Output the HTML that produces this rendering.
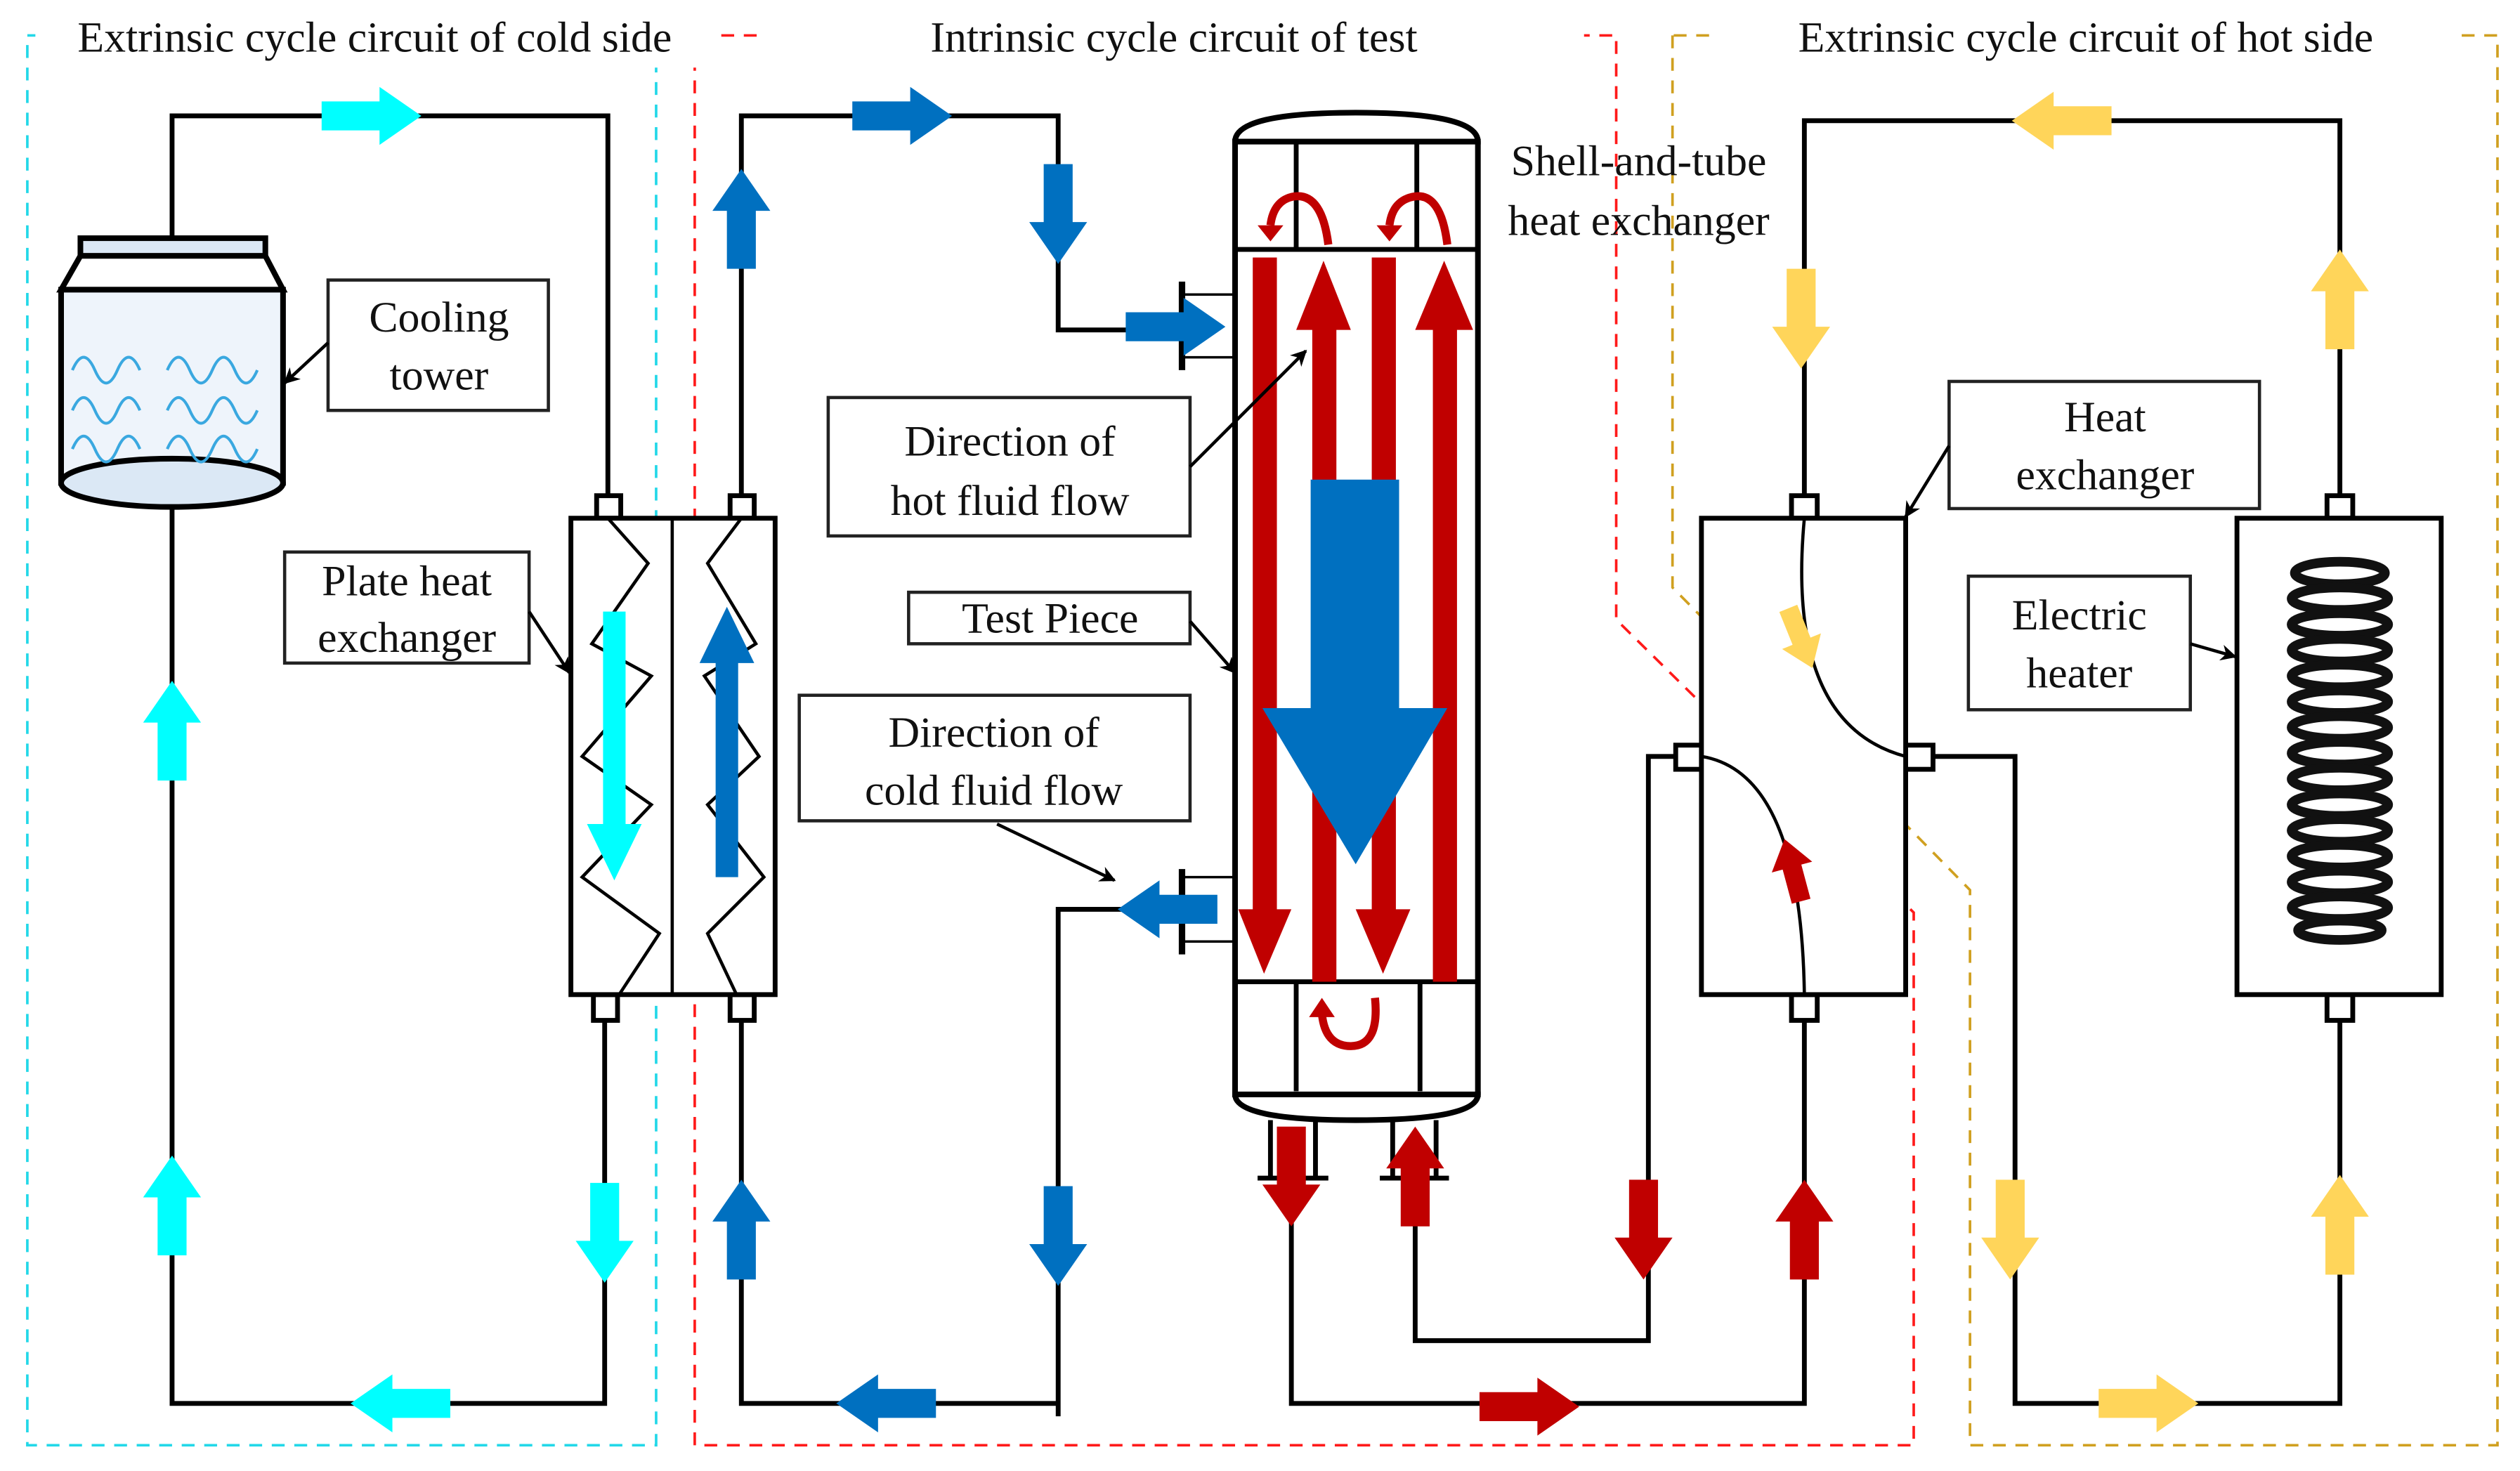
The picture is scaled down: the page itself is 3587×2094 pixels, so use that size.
<!DOCTYPE html>
<html><head><meta charset="utf-8"><style>
html,body{margin:0;padding:0;background:#fff;}
svg{display:block;}
text{font-family:"Liberation Serif",serif;fill:#111;}
</style></head><body>
<svg width="3587" height="2094" viewBox="0 0 1567 914" preserveAspectRatio="none" xmlns="http://www.w3.org/2000/svg">
<defs>
<path id="ar" d="M0,-9 H36 V-18 L62,0 L36,18 V9 H0 Z"/>
<path id="arS" d="M0,-6 H22 V-13 L40,0 L22,13 V6 H0 Z"/>
<marker id="mk" markerWidth="10" markerHeight="10" refX="9" refY="5" orient="auto" markerUnits="userSpaceOnUse"><path d="M0,0 L10,5 L0,10 L3,5 Z" fill="#000"/></marker>
</defs>
<rect width="1567" height="914" fill="#fff"/>
<rect x="17" y="22" width="391" height="876" fill="none" stroke="#22d8e8" stroke-width="1.6" stroke-dasharray="8,6"/>
<path d="M432,22 V898 H1190 V567 L1005,385 V22 Z" fill="none" stroke="#ff1a1a" stroke-width="1.6" stroke-dasharray="8,6"/>
<path d="M1040,22 V365 L1225,553 V898 H1553 V22 Z" fill="none" stroke="#d0a020" stroke-width="1.6" stroke-dasharray="8,6"/>
<rect x="22" y="4" width="425" height="38" fill="#fff"/>
<rect x="475" y="4" width="510" height="38" fill="#fff"/>
<rect x="1065" y="4" width="462" height="38" fill="#fff"/>
<text x="233" y="32" font-size="27" text-anchor="middle">Extrinsic cycle circuit of cold side</text>
<text x="730" y="32" font-size="27" text-anchor="middle">Intrinsic cycle circuit of test</text>
<text x="1297" y="32" font-size="27" text-anchor="middle">Extrinsic cycle circuit of hot side</text>

<g fill="none" stroke="#000" stroke-width="3">
<path d="M107,148 V72 H378 V310"/>
<path d="M107,315 V872 H376 V634"/>
<path d="M461,310 V72 H658 V205 H735"/>
<path d="M735,565 H658 V880"/>
<path d="M658,872 H461 V634"/>
<path d="M803,732 V872 H1122 V634"/>
<path d="M880,732 V833 H1025 V470 H1042"/>
<path d="M1122,310 V75 H1455 V310"/>
<path d="M1455,634 V872 H1253 V470 H1202"/>
</g>

<g stroke="#000" stroke-width="3.5">
<rect x="50" y="148" width="115" height="11" fill="#dbe8f5"/>
<path d="M50,159 L38,180 H176 L165,159 Z" fill="#fff"/>
<rect x="38" y="180" width="138" height="120" fill="#eef4fb"/>
<ellipse cx="107" cy="300" rx="69" ry="15" fill="#dbe8f5"/>
</g>
<g fill="none" stroke="#3aa8e0" stroke-width="1.8">
<path d="M45,230 q7,-16 14,0 t14,0 t14,0"/>
<path d="M104,230 q7,-16 14,0 t14,0 t14,0 t14,0"/>
<path d="M45,255 q7,-16 14,0 t14,0 t14,0"/>
<path d="M104,255 q7,-16 14,0 t14,0 t14,0 t14,0"/>
<path d="M45,279 q7,-16 14,0 t14,0 t14,0"/>
<path d="M104,279 q7,-16 14,0 t14,0 t14,0 t14,0"/>
</g>

<g stroke="#000" stroke-width="3" fill="#fff">
<rect x="371" y="308" width="15" height="14"/>
<rect x="454" y="308" width="15" height="14"/>
<rect x="369" y="618" width="15" height="16"/>
<rect x="454" y="618" width="15" height="16"/>
<rect x="355" y="322" width="127" height="296"/>
</g>
<line x1="418" y1="322" x2="418" y2="618" stroke="#000" stroke-width="2"/>
<polyline points="378,322 403,350 368,400 405,420 362,470 405,500 362,545 410,580 385,618" fill="none" stroke="#000" stroke-width="2"/>
<polyline points="461,322 440,350 470,400 438,420 472,470 440,500 475,545 440,580 458,618" fill="none" stroke="#000" stroke-width="2"/>

<g stroke="#000" stroke-width="3.5" fill="#fff">
<path d="M768,88 Q768,70 843,70 Q919,70 919,88 Z"/>
<path d="M768,680 Q768,696 843,696 Q919,696 919,680 Z"/>
<rect x="768" y="88" width="151" height="592"/>
</g>
<g stroke="#000" stroke-width="3">
<line x1="768" y1="155" x2="919" y2="155"/>
<line x1="768" y1="610" x2="919" y2="610"/>
<line x1="806" y1="88" x2="806" y2="155"/>
<line x1="881" y1="88" x2="881" y2="155"/>
<line x1="806" y1="610" x2="806" y2="678"/>
<line x1="883" y1="610" x2="883" y2="678"/>
<line x1="735" y1="175" x2="735" y2="230" stroke-width="4"/>
<line x1="735" y1="540" x2="735" y2="593" stroke-width="4"/>
<line x1="790" y1="696" x2="790" y2="732"/>
<line x1="818" y1="696" x2="818" y2="732"/>
<line x1="866" y1="696" x2="866" y2="732"/>
<line x1="893" y1="696" x2="893" y2="732"/>
<line x1="782" y1="732" x2="826" y2="732"/>
<line x1="858" y1="732" x2="901" y2="732"/>
</g>
<g stroke="#000" stroke-width="1.5">
<line x1="735" y1="183" x2="768" y2="183"/><line x1="735" y1="222" x2="768" y2="222"/>
<line x1="735" y1="545" x2="768" y2="545"/><line x1="735" y1="585" x2="768" y2="585"/>
</g>
<g fill="#c00000">
<rect x="779" y="160" width="15" height="410"/>
<polygon points="770,565 803,565 786,605"/>
<rect x="816" y="200" width="15" height="410"/>
<polygon points="806,205 840,205 823,162"/>
<rect x="853" y="160" width="15" height="410"/>
<polygon points="843,565 877,565 860,605"/>
<rect x="891" y="200" width="15" height="410"/>
<polygon points="880,205 916,205 898,162"/>
</g>
<g fill="none" stroke="#c00000" stroke-width="5">
<path d="M826,152 Q822,120 805,122 Q792,124 790,140"/>
<path d="M900,152 Q896,120 880,122 Q866,124 864,140"/>
<path d="M855,620 Q858,650 840,650 Q824,650 822,630"/>
</g>
<g fill="#c00000"><polygon points="782,140 798,140 790,150"/><polygon points="856,140 872,140 864,150"/><polygon points="814,632 830,632 822,620"/></g>
<polygon points="815,298 870,298 870,440 900,440 843,537 785,440 815,440" fill="#0070c0"/>

<g stroke="#000" stroke-width="3" fill="#fff">
<rect x="1114" y="308" width="16" height="14"/>
<rect x="1114" y="618" width="16" height="16"/>
<rect x="1042" y="463" width="16" height="15"/>
<rect x="1185" y="463" width="17" height="15"/>
<rect x="1058" y="322" width="127" height="296"/>
</g>
<path d="M1122,322 Q1110,450 1185,470" fill="none" stroke="#000" stroke-width="2"/>
<path d="M1058,470 Q1120,480 1122,618" fill="none" stroke="#000" stroke-width="2"/>
<g stroke="#000" stroke-width="3" fill="#fff">
<rect x="1447" y="308" width="16" height="14"/>
<rect x="1447" y="618" width="16" height="16"/>
<rect x="1391" y="322" width="127" height="296"/>
</g>
<g fill="none" stroke="#111" stroke-width="6">
<ellipse cx="1455" cy="356" rx="28" ry="7"/><ellipse cx="1455" cy="372" rx="30" ry="7"/>
<ellipse cx="1455" cy="388" rx="30" ry="7"/><ellipse cx="1455" cy="404" rx="30" ry="7"/>
<ellipse cx="1455" cy="420" rx="30" ry="7"/><ellipse cx="1455" cy="436" rx="30" ry="7"/>
<ellipse cx="1455" cy="452" rx="30" ry="7"/><ellipse cx="1455" cy="468" rx="30" ry="7"/>
<ellipse cx="1455" cy="484" rx="30" ry="7"/><ellipse cx="1455" cy="500" rx="30" ry="7"/>
<ellipse cx="1455" cy="516" rx="30" ry="7"/><ellipse cx="1455" cy="532" rx="30" ry="7"/>
<ellipse cx="1455" cy="548" rx="30" ry="7"/><ellipse cx="1455" cy="564" rx="30" ry="7"/>
<ellipse cx="1455" cy="578" rx="26" ry="6"/>
</g>

<g fill="#00ffff">
<use href="#ar" transform="translate(200,72)"/>
<use href="#ar" transform="translate(107,485) rotate(-90)"/>
<use href="#ar" transform="translate(107,780) rotate(-90)"/>
<use href="#ar" transform="translate(376,735) rotate(90)"/>
<use href="#ar" transform="translate(280,872) rotate(180)"/>
<rect x="375" y="380" width="14" height="135"/>
<polygon points="365,512 399,512 382,547"/>
</g>
<g fill="#0070c0">
<use href="#ar" transform="translate(461,167) rotate(-90)"/>
<use href="#ar" transform="translate(530,72)"/>
<use href="#ar" transform="translate(658,102) rotate(90)"/>
<use href="#ar" transform="translate(700,203)"/>
<use href="#ar" transform="translate(757,565) rotate(180)"/>
<use href="#ar" transform="translate(658,737) rotate(90)"/>
<use href="#ar" transform="translate(461,795) rotate(-90)"/>
<use href="#ar" transform="translate(582,872) rotate(180)"/>
<rect x="445" y="410" width="14" height="135"/>
<polygon points="435,412 469,412 452,377"/>
</g>
<g fill="#c00000">
<use href="#ar" transform="translate(803,700) rotate(90)"/>
<use href="#ar" transform="translate(880,762) rotate(-90)"/>
<use href="#ar" transform="translate(920,874)"/>
<use href="#ar" transform="translate(1022,733) rotate(90)"/>
<use href="#ar" transform="translate(1122,795) rotate(-90)"/>
<use href="#arS" transform="translate(1120,560) rotate(-105)"/>
</g>
<g fill="#ffd55a">
<use href="#ar" transform="translate(1313,75) rotate(180)"/>
<use href="#ar" transform="translate(1120,167) rotate(90)"/>
<use href="#ar" transform="translate(1455,217) rotate(-90)"/>
<use href="#arS" transform="translate(1112,378) rotate(68)"/>
<use href="#ar" transform="translate(1250,733) rotate(90)"/>
<use href="#ar" transform="translate(1305,872)"/>
<use href="#ar" transform="translate(1455,792) rotate(-90)"/>
</g>

<g fill="#fff" stroke="#222" stroke-width="2">
<rect x="204" y="174" width="137" height="81"/>
<rect x="177" y="343" width="152" height="69"/>
<rect x="515" y="247" width="225" height="86"/>
<rect x="565" y="368" width="175" height="32"/>
<rect x="497" y="432" width="243" height="78"/>
<rect x="1212" y="237" width="193" height="79"/>
<rect x="1224" y="358" width="138" height="83"/>
</g>
<g stroke="#000" stroke-width="2" fill="none" marker-end="url(#mk)">
<line x1="204" y1="213" x2="177" y2="238"/>
<line x1="329" y1="380" x2="354" y2="418"/>
<line x1="740" y1="290" x2="812" y2="218"/>
<line x1="740" y1="386" x2="768" y2="418"/>
<line x1="620" y1="512" x2="693" y2="547"/>
<line x1="1212" y1="277" x2="1185" y2="321"/>
<line x1="1362" y1="400" x2="1390" y2="408"/>
</g>
<g font-size="27" text-anchor="middle">
<text x="273" y="206">Cooling</text><text x="273" y="242">tower</text>
<text x="253" y="370">Plate heat</text><text x="253" y="405">exchanger</text>
<text x="628" y="283">Direction of</text><text x="628" y="320">hot fluid flow</text>
<text x="653" y="393">Test Piece</text>
<text x="618" y="464">Direction of</text><text x="618" y="500">cold fluid flow</text>
<text x="1309" y="268">Heat</text><text x="1309" y="304">exchanger</text>
<text x="1293" y="391">Electric</text><text x="1293" y="427">heater</text>
<text x="1019" y="109">Shell-and-tube</text><text x="1019" y="146">heat exchanger</text>
</g>
</svg>
</body></html>
